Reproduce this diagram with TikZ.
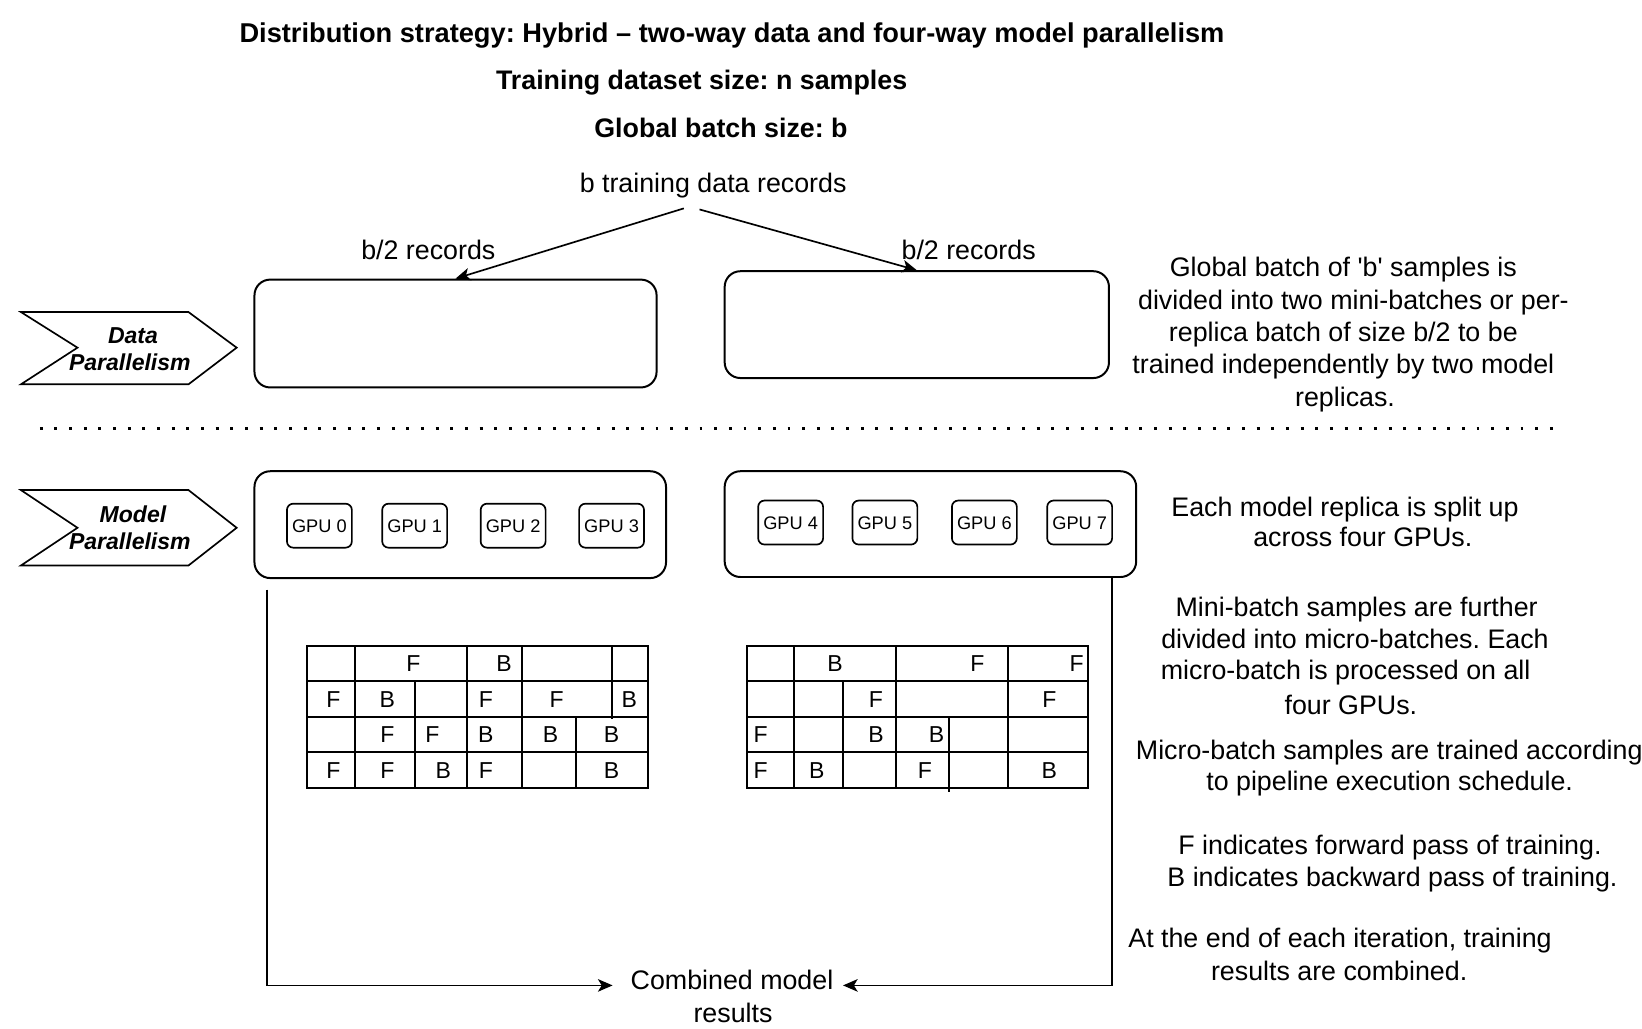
\documentclass[tikz,border=0pt]{standalone}
\usepackage{fontspec}
\setmainfont{Liberation Sans}
\usetikzlibrary{arrows.meta}
\frenchspacing
\begin{document}
\begin{tikzpicture}[x=0.5pt,y=-0.5pt,
  txt/.style={inner sep=0pt, font=\fontsize{12.8}{15}\selectfont, text height=9.2pt, text depth=0pt},
  ttl/.style={inner sep=0pt, font=\fontsize{12.8}{15}\selectfont\bfseries, text height=9.2pt, text depth=0pt},
  rbox/.style={draw, line width=0.95pt, rounded corners=7.5pt, inner sep=0pt},
  gpu/.style={draw, line width=0.8pt, rounded corners=3pt, minimum width=31pt, minimum height=21pt, inner sep=0pt, font=\fontsize{8.7}{10}\selectfont, text height=6.2pt, text depth=0pt},
  chev/.style={draw, line width=0.8pt},
  chevtxt/.style={font=\fontsize{11}{13}\selectfont\bfseries\itshape, inner sep=0pt, text height=7.9pt, text depth=0pt},
  cell/.style={inner sep=0pt, font=\fontsize{11}{13}\selectfont, text height=7.9pt, text depth=0pt},
  gridl/.style={line width=0.9pt},
  arr/.style={line width=0.8pt, -{Stealth[length=7pt,width=6pt,inset=1.8pt]}},
]
\frenchspacing
\useasboundingbox (0,0) rectangle (1568,982.6);

% titles
\node[ttl, font=\fontsize{13}{15}\selectfont\bfseries] (t1) at (699,31) {Distribution strategy: Hybrid – two-way data and four-way model parallelism};
\node[ttl] (t2) at (670,76) {Training dataset size: n samples};
\node[ttl] (t3) at (688.5,122) {Global batch size: b};
\node[txt] (src) at (681,175) {b training data records};

% data parallelism boxes
\node[rbox, minimum width=192pt, minimum height=51.5pt] (dl) at (435,318.5) {};
\node[rbox, minimum width=183.5pt, minimum height=51pt] (dr) at (875.5,310) {};
\node[txt] (bl) at (409,239) {b/2 records};
\node[txt] (br) at (925,239) {b/2 records};
\coordinate (s1) at (653,199);
\coordinate (s2) at (668,200);
\draw[arr] (s1) -- (dl.north);
\draw[arr] (s2) -- (dr.north);

% chevrons
\draw[chev] (20,298) -- (180,298) -- (226,332) -- (180,367) -- (20,367) -- (74,332) -- cycle;
\node[chevtxt] (dp1) at (127,320) {Data};
\node[chevtxt] (dp2) at (124,346) {Parallelism};
\draw[chev] (20,468) -- (180,468) -- (226,504) -- (180,540) -- (20,540) -- (74,504) -- cycle;
\node[chevtxt] (mp1) at (127,491) {Model};
\node[chevtxt] (mp2) at (124,517) {Parallelism};

% dotted separator
\draw[line width=1.4pt, dash pattern=on 1.4pt off 5.6pt] (38,409) -- (1490,409);

% model boxes
\node[rbox, minimum width=196.5pt, minimum height=51pt] (ml) at (439.5,501) {};
\node[rbox, minimum width=196.5pt, minimum height=50.5pt] (mr) at (888.5,500.5) {};
\node[gpu] (g0) at (305,502) {GPU 0};
\node[gpu] (g1) at (396,502) {GPU 1};
\node[gpu] (g2) at (490,502) {GPU 2};
\node[gpu] (g3) at (584,502) {GPU 3};
\node[gpu] (g4) at (755,499) {GPU 4};
\node[gpu] (g5) at (845,499) {GPU 5};
\node[gpu] (g6) at (940,499) {GPU 6};
\node[gpu] (g7) at (1031,499) {GPU 7};

% left table
\draw[gridl] (293.5,616.5) rectangle (618.5,752.5);
\foreach \yy in {650.5,684.5,718.5} \draw[gridl] (293.5,\yy) -- (618.5,\yy);
\foreach \xx in {339,445.6,498.2} \draw[gridl] (\xx,616.5) -- (\xx,752.5);
\draw[gridl] (396.3,650.5) -- (396.3,752.5);
\draw[gridl] (584.1,616.5) -- (584.1,687);
\draw[gridl] (550,684.5) -- (550,752.5);
\foreach \xx/\yy/\tt [count=\i] in {394.7/633.5/F, 481.3/633.5/B,
  318.3/667.5/F, 369.9/667.5/B, 464.1/667.5/F, 531.6/667.5/F, 601/667.5/B,
  369.9/701.5/F, 412.9/701.5/F, 463.9/701.5/B, 525.8/701.5/B, 584.1/701.5/B,
  318.3/735.5/F, 369.9/735.5/F, 423.4/735.5/B, 464.1/735.5/F, 584.1/735.5/B}
  \node[cell] (lc\i) at (\xx,\yy) {\tt};

% right table
\draw[gridl] (713.6,616.5) rectangle (1038.6,752.5);
\foreach \yy in {650.5,684.5,718.5} \draw[gridl] (713.6,\yy) -- (1038.6,\yy);
\foreach \xx in {758.5,855.3,962.3} \draw[gridl] (\xx,616.5) -- (\xx,752.5);
\draw[gridl] (804.7,650.5) -- (804.7,752.5);
\draw[gridl] (906.5,684.5) -- (906.5,756);
\draw[gridl] (1039.2,650.5) -- (1039.2,668);
\foreach \xx/\yy/\tt [count=\i] in {797.4/633.5/B, 933.3/633.5/F, 1028.1/633.5/F,
  836.5/667.5/F, 1002/667.5/F,
  726.4/701.5/F, 836.5/701.5/B, 894.4/701.5/B,
  726.4/735.5/F, 779.9/735.5/B, 883.3/735.5/F, 1002/735.5/B}
  \node[cell] (rc\i) at (\xx,\yy) {\tt};

% combine connectors
\node[txt] (comb1) at (699,936) {Combined model};
\node[txt] (comb2) at (700,967) {results};
\coordinate (cl) at (255,563);
\coordinate (cr) at (1062,552);
\coordinate (ael) at (585,941);
\coordinate (aer) at (805,941);
\draw[arr] (cl) |- (ael);
\draw[arr] (cr) |- (aer);

% right column text
\node[txt] (r1) at (1282.8,254.6) {Global batch of \textquotesingle b\textquotesingle\ samples is};
\node[txt] (r2) at (1292.4,286.5) {divided into two mini-batches or per-};
\node[txt] (r3) at (1282.8,316.7) {replica batch of size b/2 to be};
\node[txt] (r4) at (1282.8,347) {trained independently by two model};
\node[txt] (r5) at (1284.4,378.8) {replicas.};
\node[txt] (m1) at (1284.4,483.8) {Each model replica is split up};
\node[txt] (m2) at (1301.4,512.5) {across four GPUs.};
\node[txt] (p1) at (1295.5,579.3) {Mini-batch samples are further};
\node[txt] (p2) at (1293.9,609.6) {divided into micro-batches. Each};
\node[txt] (p3) at (1285,639.8) {micro-batch is processed on all};
\node[txt] (p4) at (1290,673) {four GPUs.};
\node[txt] (q1) at (1326.6,716) {Micro-batch samples are trained according};
\node[txt] (q2) at (1327,745.5) {to pipeline execution schedule.};
\node[txt] (f1) at (1327.3,806.9) {F indicates forward pass of training.};
\node[txt] (f2) at (1329.7,837) {B indicates backward pass of training.};
\node[txt] (e1) at (1279.6,896) {At the end of each iteration, training};
\node[txt] (e2) at (1278.8,927) {results are combined.};
\end{tikzpicture}
\end{document}
